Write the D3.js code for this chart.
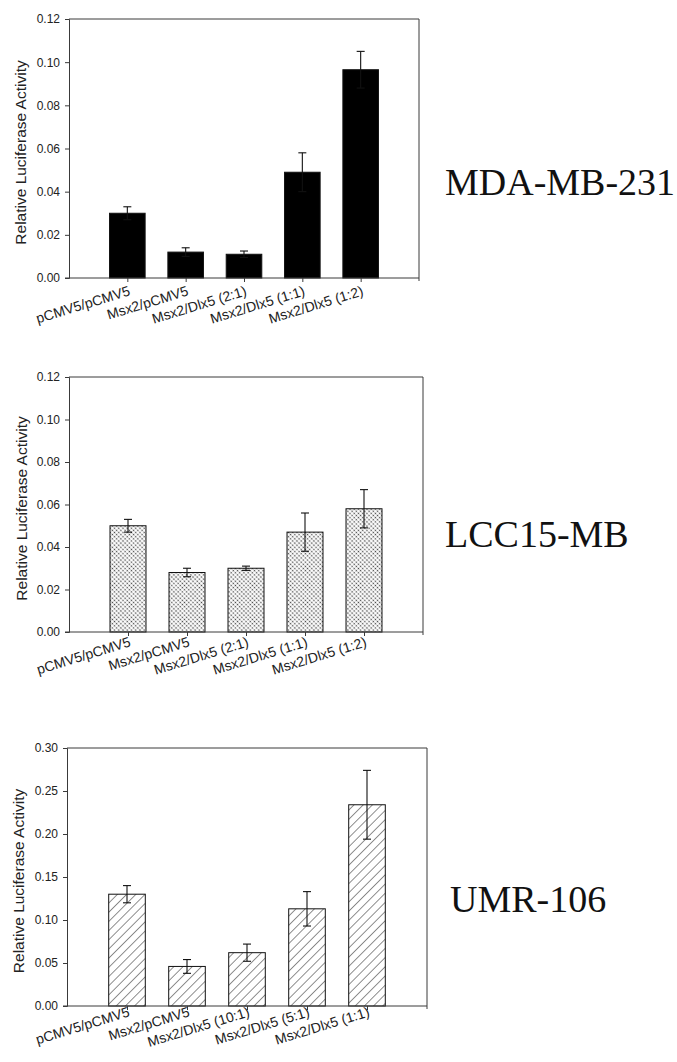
<!DOCTYPE html>
<html>
<head>
<meta charset="utf-8">
<script src="https://cdn.jsdelivr.net/npm/d3@7"></script>
<style>
  body { margin: 0; background: #fff; }
  svg { display: block; }
</style>
</head>
<body>
<svg width="677" height="1062"></svg>
<script>
// values (relative luciferase activity, mean and error)
let categories_a = ["pCMV5/pCMV5", "Msx2/pCMV5", "Msx2/Dlx5 (2:1)", "Msx2/Dlx5 (1:1)", "Msx2/Dlx5 (1:2)"];
let categories_c = ["pCMV5/pCMV5", "Msx2/pCMV5", "Msx2/Dlx5 (10:1)", "Msx2/Dlx5 (5:1)", "Msx2/Dlx5 (1:1)"];

let mda_values = [0.030, 0.012, 0.011, 0.049, 0.0965];
let mda_errors = [0.003, 0.002, 0.0015, 0.009, 0.0085];

let lcc_values = [0.050, 0.028, 0.030, 0.047, 0.058];
let lcc_errors = [0.003, 0.002, 0.001, 0.009, 0.009];

let umr_values = [0.130, 0.046, 0.062, 0.113, 0.234];
let umr_errors = [0.010, 0.008, 0.010, 0.020, 0.040];

let ticks_small = [0.00, 0.02, 0.04, 0.06, 0.08, 0.10, 0.12];
let ticks_large = [0.00, 0.05, 0.10, 0.15, 0.20, 0.25, 0.30];

let cell_lines = ["MDA-MB-231", "LCC15-MB", "UMR-106"];
let y_title = "Relative Luciferase Activity";

var svg = d3.select("svg");
var defs = svg.append("defs");

// fine stipple for the LCC15 bars
var dots = defs.append("pattern")
    .attr("id", "dots")
    .attr("patternUnits", "userSpaceOnUse")
    .attr("width", 3).attr("height", 3)
    .attr("patternTransform", "rotate(45)");
dots.append("rect").attr("width", 3).attr("height", 3).attr("fill", "#fff");
dots.append("circle").attr("cx", 1.5).attr("cy", 1.5).attr("r", 0.85).attr("fill", "#444");

// diagonal hatch for the UMR-106 bars
var hatch = defs.append("pattern")
    .attr("id", "hatch")
    .attr("patternUnits", "userSpaceOnUse")
    .attr("width", 6.5).attr("height", 6.5)
    .attr("patternTransform", "rotate(45)");
hatch.append("rect").attr("width", 6.5).attr("height", 6.5).attr("fill", "#fff");
hatch.append("line")
    .attr("x1", 0).attr("y1", 0).attr("x2", 0).attr("y2", 6.5)
    .attr("stroke", "#333").attr("stroke-width", 1.1);

function draw_panel(p) {
  var x = d3.scalePoint().domain(p.categories).range([p.left, p.right]).padding(1);
  var y = d3.scaleLinear().domain([0, p.y_max]).range([p.bottom, p.top]);
  var bar_w = x.step() * 0.61;
  var g = svg.append("g");

  var data = p.categories.map(function(c, i) {
    return {cat: c, value: p.values[i], err: p.errors[i]};
  });

  // frame top and right
  g.append("path")
    .attr("d", "M" + p.left + "," + p.top + "H" + p.right + "V" + (p.bottom + 3))
    .attr("fill", "none").attr("stroke", "#3a3a3a").attr("stroke-width", 1);

  g.selectAll(".bar")
    .data(data)
    .enter().append("rect")
      .attr("class", "bar")
      .attr("x", d => x(d.cat) - bar_w / 2)
      .attr("y", d => y(d.value))
      .attr("width", bar_w)
      .attr("height", d => y(0) - y(d.value))
      .attr("fill", p.fill)
      .attr("stroke", "#111")
      .attr("stroke-width", 1);

  // error bars
  var cap = 4;
  var eb = g.selectAll(".err").data(data).enter().append("g").attr("class", "err")
      .attr("stroke", "#111").attr("stroke-width", 1.1);
  eb.append("line")
    .attr("x1", d => x(d.cat)).attr("x2", d => x(d.cat))
    .attr("y1", d => y(d.value - d.err)).attr("y2", d => y(d.value + d.err));
  eb.append("line")
    .attr("x1", d => x(d.cat) - cap).attr("x2", d => x(d.cat) + cap)
    .attr("y1", d => y(d.value + d.err)).attr("y2", d => y(d.value + d.err));
  eb.append("line")
    .attr("x1", d => x(d.cat) - cap).attr("x2", d => x(d.cat) + cap)
    .attr("y1", d => y(d.value - d.err)).attr("y2", d => y(d.value - d.err));

  var y_axis = g.append("g")
      .attr("transform", "translate(" + p.left + ",0)")
      .call(d3.axisLeft(y).tickValues(p.ticks).tickFormat(d3.format(".2f")).tickSize(4).tickPadding(5));
  y_axis.select(".domain").attr("stroke", "#3a3a3a");
  y_axis.selectAll(".tick line").attr("stroke", "#3a3a3a");
  y_axis.selectAll("text")
      .attr("font-family", "Liberation Sans, Arial, sans-serif")
      .attr("font-size", "12px")
      .attr("fill", "#222");

  var x_axis = g.append("g")
      .attr("transform", "translate(0," + p.bottom + ")")
      .call(d3.axisBottom(x).tickSize(4).tickSizeOuter(0));
  x_axis.select(".domain")
      .attr("d", "M" + (p.left - 4) + ",0H" + p.right)
      .attr("stroke", "#3a3a3a");
  x_axis.selectAll(".tick line").attr("stroke", "#3a3a3a");
  x_axis.selectAll("text")
      .attr("font-family", "Liberation Sans, Arial, sans-serif")
      .attr("font-size", "14px")
      .attr("fill", "#222")
      .attr("text-anchor", "end")
      .attr("y", 0).attr("dy", 0)
      .attr("transform", "translate(3," + p.label_drop + ") rotate(-17)");

  g.append("text")
    .attr("transform", "translate(" + p.title_x + "," + ((p.top + p.bottom) / 2 + 4) + ") rotate(-90)")
    .attr("text-anchor", "middle")
    .attr("font-family", "Liberation Sans, Arial, sans-serif")
    .attr("font-size", "15.5px")
    .attr("fill", "#222")
    .text(y_title);

  g.append("text")
    .attr("x", p.name_x).attr("y", p.name_y)
    .attr("font-family", "Liberation Serif, Times New Roman, serif")
    .attr("font-size", "38px")
    .attr("fill", "#111")
    .text(p.name);
}

draw_panel({categories: categories_a, values: mda_values, errors: mda_errors, y_max: 0.12, ticks: ticks_small,
  left: 69, right: 419, top: 19, bottom: 278, fill: "#000", label_drop: 17, title_x: 26,
  name: cell_lines[0], name_x: 445, name_y: 195});

draw_panel({categories: categories_a, values: lcc_values, errors: lcc_errors, y_max: 0.12, ticks: ticks_small,
  left: 69, right: 423, top: 377, bottom: 632, fill: "url(#dots)", label_drop: 14, title_x: 27,
  name: cell_lines[1], name_x: 445, name_y: 547});

draw_panel({categories: categories_c, values: umr_values, errors: umr_errors, y_max: 0.30, ticks: ticks_large,
  left: 67, right: 427, top: 748, bottom: 1006, fill: "url(#hatch)", label_drop: 10, title_x: 24,
  name: cell_lines[2], name_x: 450, name_y: 912});
</script>
</body>
</html>
